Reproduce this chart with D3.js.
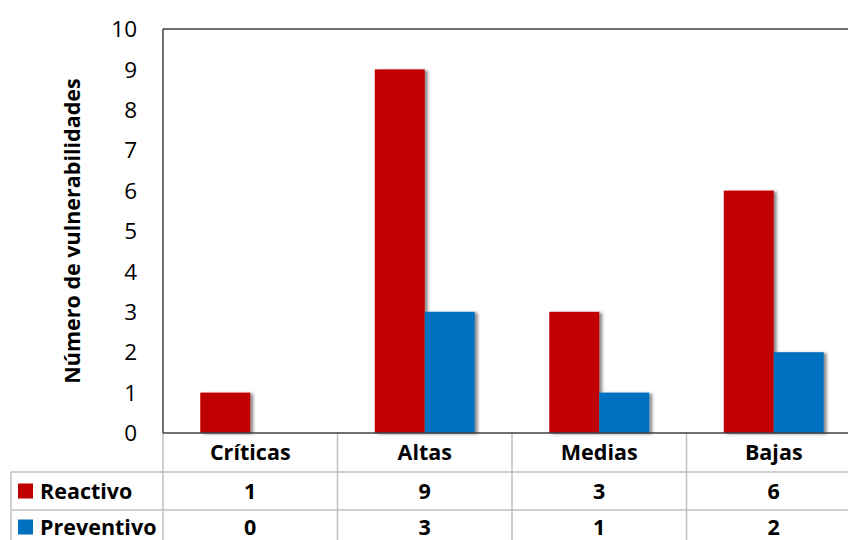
<!DOCTYPE html>
<html>
<head>
<meta charset="utf-8">
<script src="https://cdn.jsdelivr.net/npm/d3@7"></script>
<style>
  body { margin: 0; background: #fff; }
  svg { display: block; font-family: "Open Sans", "Noto Sans", sans-serif; }
  .tick-label { font-size: 22.5px; fill: #000; }
  .cell { font-size: 21.5px; font-weight: bold; fill: #000; }
</style>
</head>
<body>
<div id="chart"></div>
<script>
const categories = ["Críticas", "Altas", "Medias", "Bajas"];
const seriesNames = ["Reactivo", "Preventivo"];
const reactivo = [1, 9, 3, 6];
const preventivo = [0, 3, 1, 2];
const yTicks = [0, 1, 2, 3, 4, 5, 6, 7, 8, 9, 10];
const colors = ["#C00000", "#0070C0"];

const width = 848, height = 540;
const margin = { top: 29, left: 163, bottom: 433, right: 861 };
const rowH = [433, 472, 510, 544];
const tableLeft = 11;

const svg = d3.select("#chart").append("svg")
  .attr("width", width)
  .attr("height", height);

// drop shadow for the bars
const defs = svg.append("defs");
const f = defs.append("filter").attr("id", "shadow")
  .attr("x", "-10%").attr("y", "-10%").attr("width", "130%").attr("height", "120%");
f.append("feDropShadow")
  .attr("dx", 3).attr("dy", 1).attr("stdDeviation", 1.5)
  .attr("flood-color", "#000").attr("flood-opacity", 0.45);

const y = d3.scaleLinear().domain([0, 10]).range([margin.bottom, margin.top]);
const x0 = d3.scaleBand().domain(categories).range([margin.left, margin.right]);
const x1 = d3.scaleBand().domain(seriesNames)
  .range([0, x0.bandwidth()])
  .paddingInner(0).paddingOuter(0.745);

const data = categories.map((c, i) => ({
  cat: c,
  values: [
    { s: "Reactivo", v: reactivo[i] },
    { s: "Preventivo", v: preventivo[i] }
  ]
}));

// y tick labels
svg.append("g")
  .selectAll("text")
  .data(yTicks)
  .join("text")
  .attr("class", "tick-label")
  .attr("x", 137)
  .attr("y", d => y(d))
  .attr("dy", "0.36em")
  .attr("text-anchor", "end")
  .text(d => d);

// axis title
svg.append("text")
  .attr("transform", `translate(80, ${(margin.top + margin.bottom) / 2}) rotate(-90)`)
  .attr("text-anchor", "middle")
  .style("font-size", "21.5px")
  .style("font-weight", "bold")
  .text("Número de vulnerabilidades");

// bars
const groups = svg.append("g")
  .selectAll("g")
  .data(data)
  .join("g")
  .attr("transform", d => `translate(${x0(d.cat)},0)`);

groups.selectAll("rect")
  .data(d => d.values.filter(e => e.v > 0))
  .join("rect")
  .attr("x", d => x1(d.s))
  .attr("y", d => y(d.v))
  .attr("width", x1.bandwidth())
  .attr("height", d => y(0) - y(d.v))
  .attr("fill", d => colors[seriesNames.indexOf(d.s)])
  .attr("filter", "url(#shadow)");

// table grid
const grid = svg.append("g").attr("stroke", "#c0c0c0").attr("stroke-width", 1.5);
[rowH[1], rowH[2]].forEach(yy => {
  grid.append("line").attr("x1", tableLeft).attr("x2", width).attr("y1", yy).attr("y2", yy);
});
grid.append("line").attr("x1", tableLeft).attr("x2", tableLeft).attr("y1", rowH[1]).attr("y2", height);
categories.forEach((c, i) => {
  if (i === 0) return;
  grid.append("line").attr("x1", x0(c)).attr("x2", x0(c)).attr("y1", margin.bottom).attr("y2", height);
});
grid.append("line").attr("x1", margin.left).attr("x2", margin.left).attr("y1", margin.bottom).attr("y2", height);

// plot frame
const frame = svg.append("g").attr("stroke", "#404040").attr("stroke-width", 1.5).attr("fill", "none");
frame.append("line").attr("x1", margin.left).attr("x2", width).attr("y1", margin.top).attr("y2", margin.top);
frame.append("line").attr("x1", margin.left).attr("x2", margin.left).attr("y1", margin.top).attr("y2", margin.bottom);
frame.append("line").attr("x1", margin.left).attr("x2", width).attr("y1", margin.bottom).attr("y2", margin.bottom);

// category labels
svg.append("g").selectAll("text")
  .data(categories)
  .join("text")
  .attr("class", "cell")
  .attr("x", d => x0(d) + x0.bandwidth() / 2)
  .attr("y", (rowH[0] + rowH[1]) / 2)
  .attr("dy", "0.36em")
  .attr("text-anchor", "middle")
  .text(d => d);

// value rows
[reactivo, preventivo].forEach((vals, r) => {
  const cy = (rowH[r + 1] + rowH[r + 2]) / 2;
  svg.append("g").selectAll("text")
    .data(vals)
    .join("text")
    .attr("class", "cell")
    .attr("x", (d, i) => x0(categories[i]) + x0.bandwidth() / 2)
    .attr("y", cy)
    .attr("dy", "0.36em")
    .attr("text-anchor", "middle")
    .text(d => d);

  svg.append("rect")
    .attr("x", 18)
    .attr("y", cy - 7.5)
    .attr("width", 15)
    .attr("height", 15)
    .attr("fill", colors[r]);

  svg.append("text")
    .attr("class", "cell")
    .attr("x", 40)
    .attr("y", cy)
    .attr("dy", "0.36em")
    .text(seriesNames[r]);
});
</script>
</body>
</html>
